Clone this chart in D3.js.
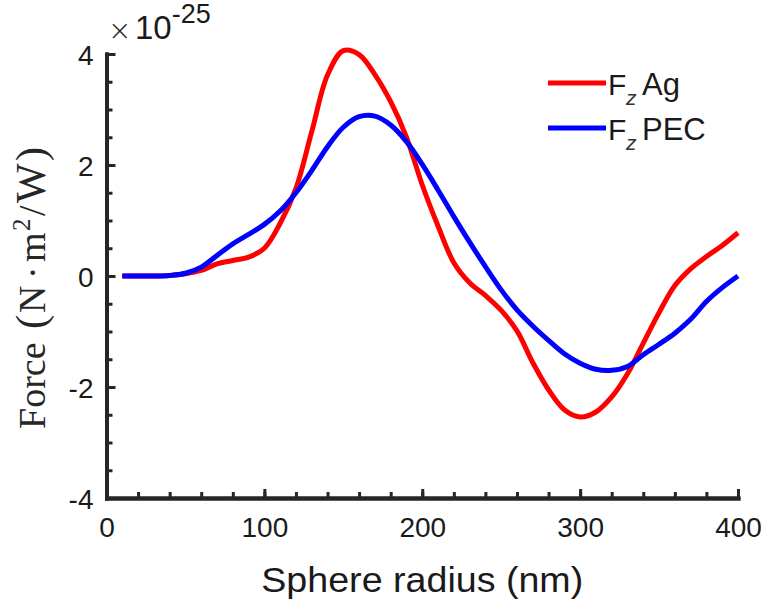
<!DOCTYPE html>
<html>
<head>
<meta charset="utf-8">
<script src="https://cdn.jsdelivr.net/npm/d3@7"></script>
<style>
  html, body { margin: 0; padding: 0; background: #fff; }
  svg { display: block; }
</style>
</head>
<body>
<div id="chart"></div>
<script>
// --- data (force in units of 1e-25 N·m²/W) ---
const radius = [10, 20, 30, 40, 50, 60, 70, 80, 90, 100,
                110, 120, 130, 140, 150, 160, 170, 180, 190, 200,
                210, 220, 230, 240, 250, 260, 270, 280, 290, 300,
                310, 320, 330, 340, 350, 360, 370, 380, 390, 400];

const forceAg = [0, 0, 0, 0.01, 0.04, 0.1, 0.22, 0.28, 0.34, 0.5,
                 0.95, 1.58, 2.6, 3.62, 4.06, 3.99, 3.63, 3.14, 2.5, 1.64,
                 0.9, 0.24, -0.12, -0.35, -0.62, -0.99, -1.56, -2.05, -2.41, -2.54,
                 -2.45, -2.18, -1.76, -1.21, -0.66, -0.17, 0.13, 0.35, 0.55, 0.78];

const forcePEC = [0, 0, 0, 0.01, 0.05, 0.16, 0.37, 0.58, 0.75, 0.93,
                  1.17, 1.5, 1.9, 2.33, 2.68, 2.87, 2.88, 2.72, 2.42, 2.01,
                  1.55, 1.07, 0.61, 0.17, -0.25, -0.61, -0.9, -1.16, -1.4, -1.57,
                  -1.68, -1.7, -1.63, -1.42, -1.23, -1.03, -0.78, -0.46, -0.21, 0];

const xTicks = [0, 100, 200, 300, 400];
const yTicks = [-4, -2, 0, 2, 4];

const series = [
  { name: "Ag", values: forceAg, color: "#ff0000" },
  { name: "PEC", values: forcePEC, color: "#0000ff" }
];

// y-label pieces: text, offset along the rotated baseline, font size, raise
const yLabelParts = [
  ["Force", 0, 38, 0], ["(", 100, 42, 0], ["N", 116, 38, 0], ["\u00b7", 150, 38, 0],
  ["m", 167, 38, 0], ["2", 198, 25, 15], ["/", 213, 38, 0], ["W", 226, 42, 0], [")", 268, 42, 0]
];

// --- layout ---
const width = 766, height = 608;
const axisColor = "#262626";

const svg = d3.select("#chart").append("svg")
    .attr("width", width)
    .attr("height", height);

const x = d3.scaleLinear().domain([0, 400]).range([106.5, 738]);
const y = d3.scaleLinear().domain([-4, 4]).range([498, 54]);

// --- curves ---
const line = d3.line()
    .x((d, i) => x(radius[i]))
    .y(d => y(d))
    .curve(d3.curveCatmullRom.alpha(0.5));

svg.append("g").selectAll("path")
    .data(series)
    .join("path")
    .attr("d", d => line(d.values))
    .attr("fill", "none")
    .attr("stroke", d => d.color)
    .attr("stroke-width", 5)
    .attr("stroke-linejoin", "round");

// --- axes (ticks point inward) ---
const minorX = [];
for (let v = 0; v <= 400; v += 20) minorX.push(v);
const minorY = [];
for (let v = -4; v <= 4; v += 0.5) minorY.push(v);

const xg = svg.append("g").attr("transform", `translate(0,${y(-4)})`);
xg.append("g").call(d3.axisBottom(x).tickValues(minorX).tickSize(-6).tickSizeOuter(0).tickFormat(""));
xg.append("g").call(d3.axisBottom(x).tickValues(xTicks).tickSize(-9).tickSizeOuter(0).tickPadding(14)
    .tickFormat(d => String(d)));

const yg = svg.append("g").attr("transform", `translate(${x(0)},0)`);
yg.append("g").call(d3.axisLeft(y).tickValues(minorY).tickSize(-6).tickSizeOuter(0).tickFormat(""));
yg.append("g").call(d3.axisLeft(y).tickValues(yTicks).tickSize(-9).tickSizeOuter(0).tickPadding(13)
    .tickFormat(d => String(d)));

svg.selectAll(".domain")
    .attr("stroke", axisColor)
    .attr("stroke-width", 4)
    .attr("stroke-linecap", "square");
svg.selectAll(".tick line")
    .attr("stroke", axisColor)
    .attr("stroke-width", 3);
svg.selectAll(".tick text")
    .attr("fill", "#1a1a1a")
    .style("font-family", "Arial, 'Liberation Sans', sans-serif")
    .style("font-size", "28px");
xg.selectAll(".tick text").attr("dy", "0.9em");
yg.selectAll(".tick text").attr("dy", "0.36em");

// --- axis titles ---
svg.append("text")
    .attr("x", x(200))
    .attr("y", 592)
    .attr("text-anchor", "middle")
    .attr("fill", "#1a1a1a")
    .style("font-family", "Arial, 'Liberation Sans', sans-serif")
    .style("font-size", "35px")
    .attr("textLength", 322)
    .attr("lengthAdjust", "spacingAndGlyphs")
    .text("Sphere radius (nm)");

const yl = svg.append("g")
    .attr("transform", "translate(45,429) rotate(-90)")
    .style("font-family", "'Liberation Serif', 'DejaVu Serif', serif")
    .attr("fill", "#262626");
yl.selectAll("text")
    .data(yLabelParts)
    .join("text")
    .attr("x", d => d[1])
    .attr("y", d => -d[3])
    .style("font-size", d => d[2] + "px")
    .text(d => d[0]);

// --- exponent multiplier ---
svg.append("text")
    .attr("x", 108)
    .attr("y", 40)
    .attr("fill", "#262626")
    .style("font-family", "'DejaVu Sans', sans-serif")
    .style("font-size", "28px")
    .style("font-weight", "200")
    .text("\u00d7");
const mult = svg.append("text")
    .attr("x", 135)
    .attr("y", 39)
    .attr("fill", "#1a1a1a")
    .style("font-family", "Arial, 'Liberation Sans', sans-serif")
    .style("font-size", "33px");
mult.append("tspan").text("10");
mult.append("tspan").attr("dy", -16).style("font-size", "27px").text("-25");

// --- legend ---
const legend = svg.append("g").selectAll("g")
    .data(series)
    .join("g")
    .attr("transform", (d, i) => `translate(548,${83 + i * 45})`);
legend.append("line")
    .attr("x1", 0).attr("x2", 58)
    .attr("stroke", d => d.color)
    .attr("stroke-width", 5);
const lt = legend.append("g")
    .attr("fill", "#1a1a1a")
    .style("font-family", "Arial, 'Liberation Sans', sans-serif");
lt.append("text").attr("x", 60).attr("y", 12).style("font-size", "30px").text("F");
lt.append("text").attr("x", 78).attr("y", 22).style("font-size", "21px")
    .style("font-style", "italic").attr("fill", "#333").text("z");
lt.append("text").attr("x", 94).attr("y", 12).style("font-size", "31px").text(d => d.name);
</script>
</body>
</html>
